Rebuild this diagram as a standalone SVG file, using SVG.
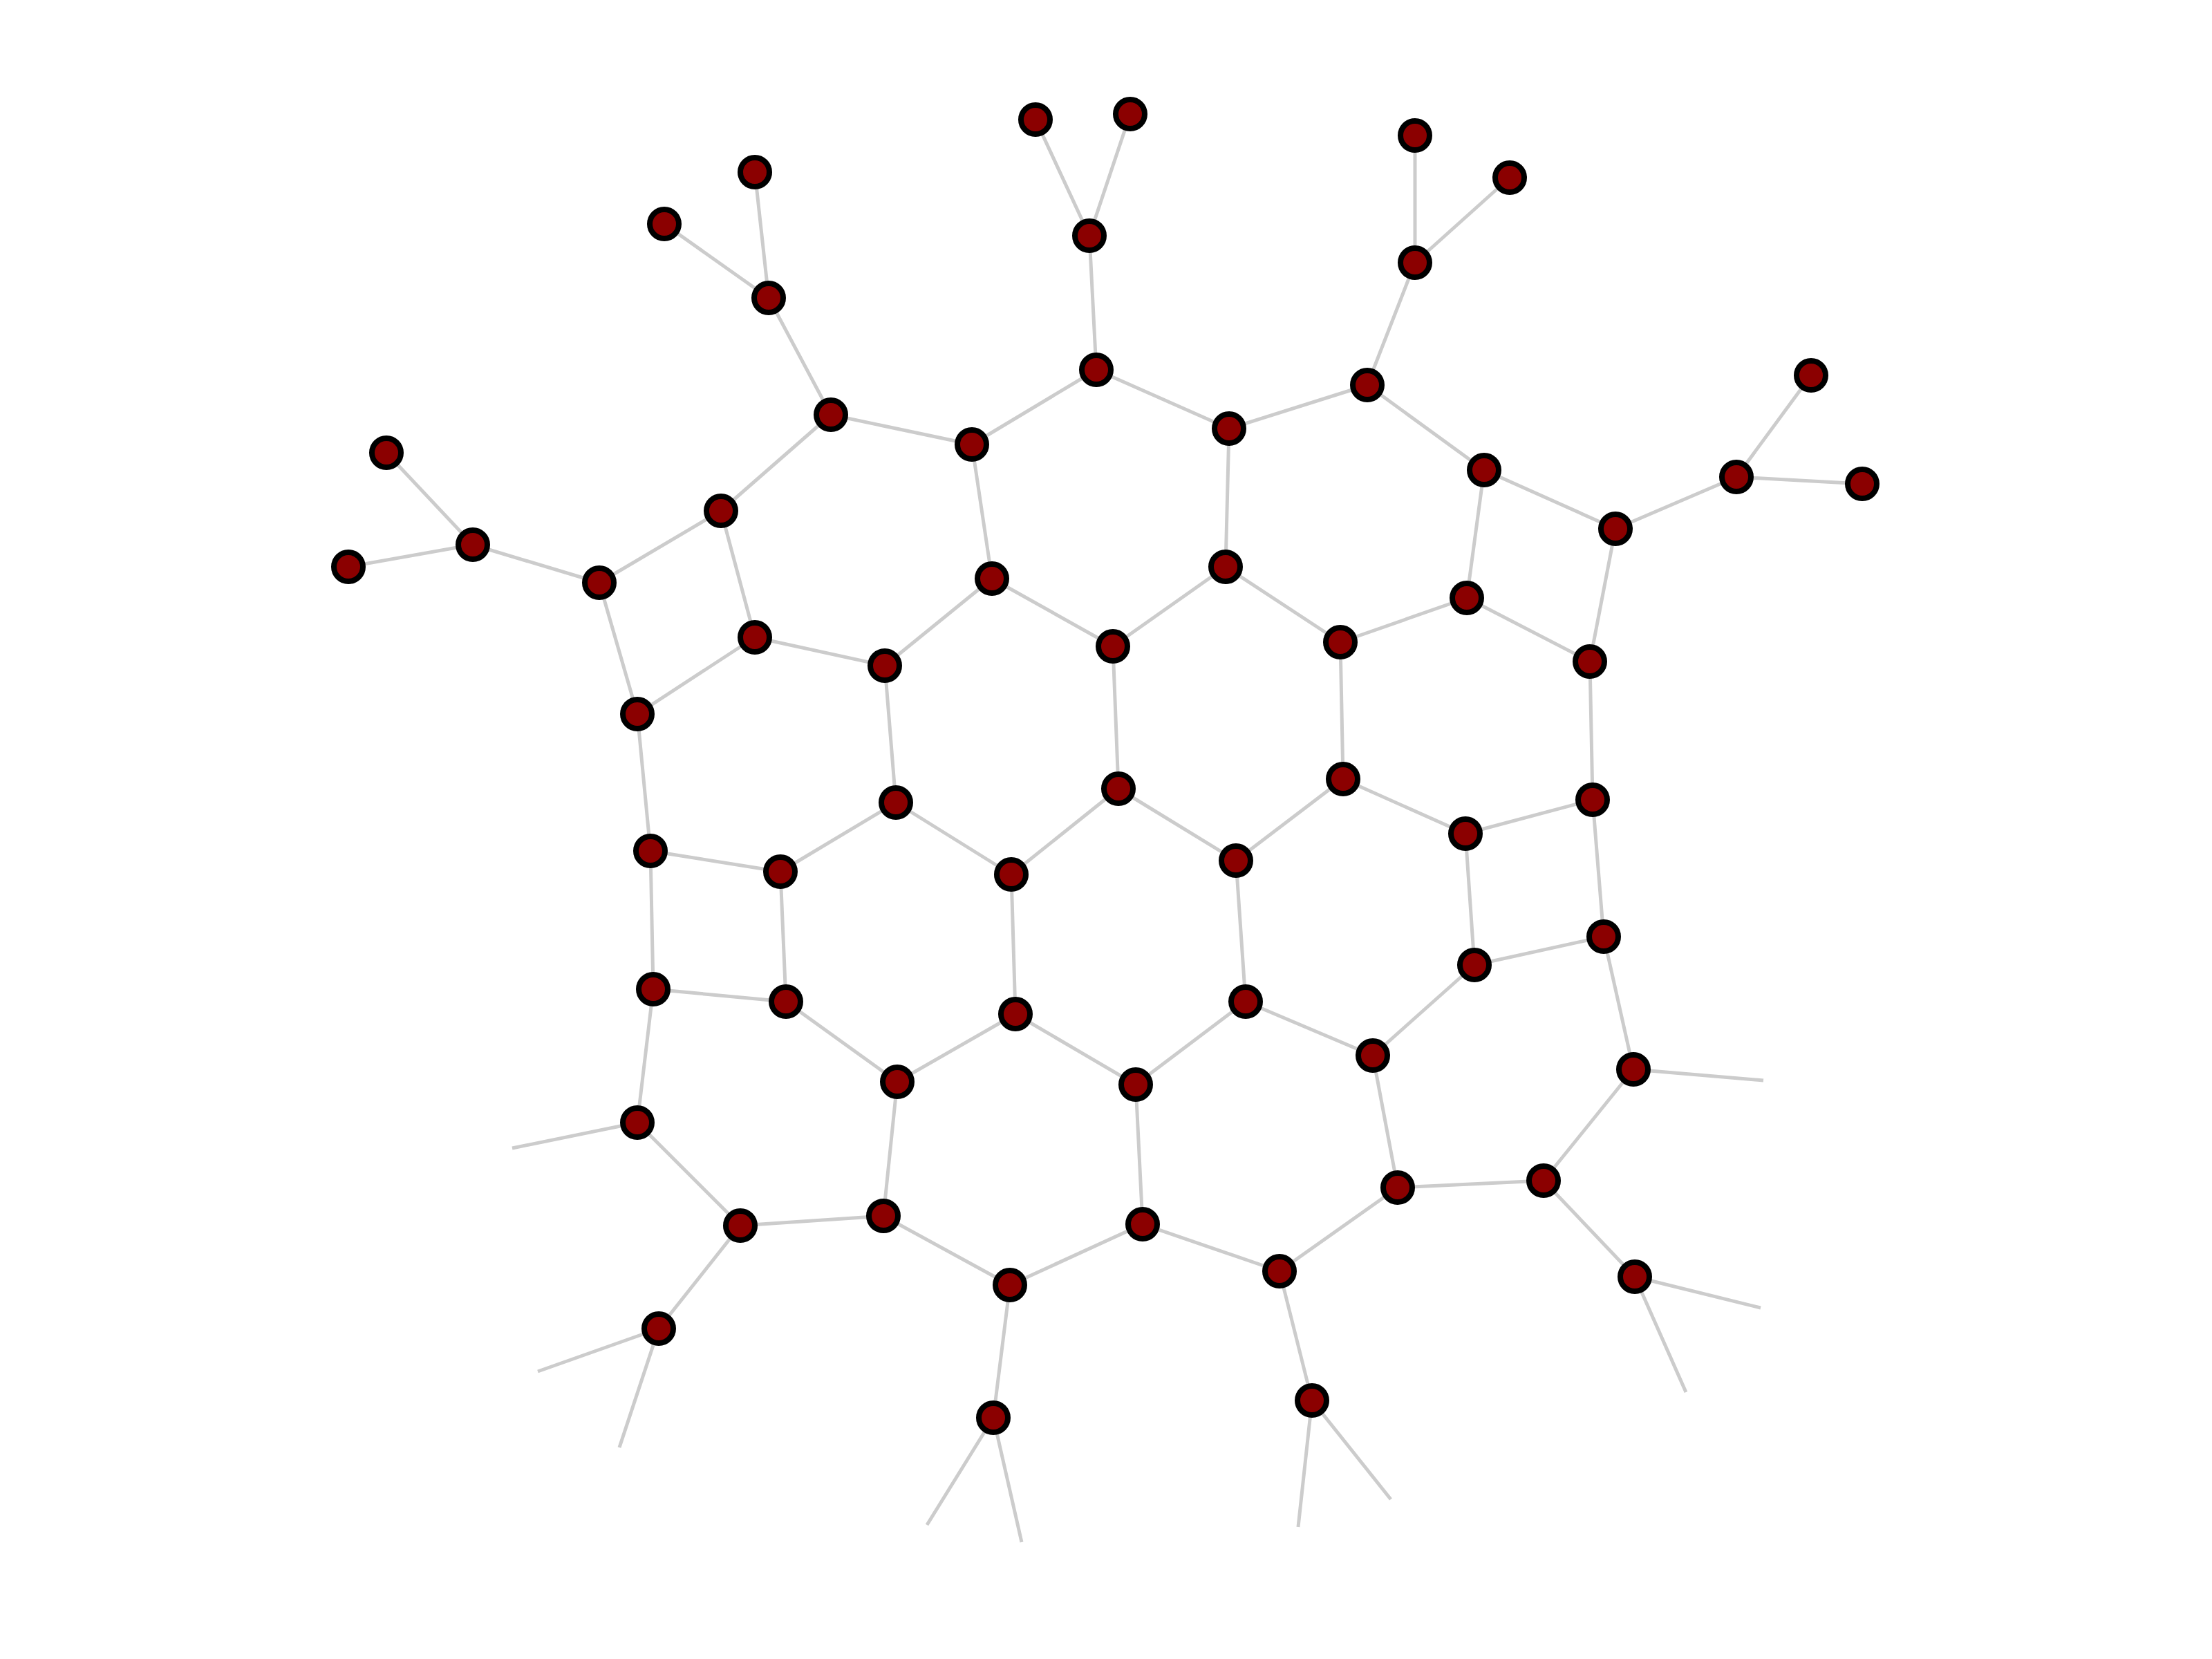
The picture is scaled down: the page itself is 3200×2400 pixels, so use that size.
<svg xmlns="http://www.w3.org/2000/svg" width="3200" height="2400" viewBox="0 0 3200 2400">
<style>
.e{stroke:#cccccc;stroke-width:5;stroke-linecap:butt;fill:none}
.n{fill:#8b0000;stroke:#000000;stroke-width:8}
</style>
<rect width="3200" height="2400" fill="#ffffff"/>
<g id="edges">
<path class="e" d="M1498,173L1576,341M1635,165L1576,341M1576,341L1586,535M1586,535L1406,643M1586,535L1778,620M1092,249L1112,431M961,324L1112,431M1112,431L1202,600M1202,600L1406,643M1202,600L1043,739M1406,643L1435,837M1778,620L1978,557M1778,620L1773,820M1978,557L2047,380M1978,557L2147,680M2047,196L2047,380M2184,257L2047,380M2147,680L2337,765M2147,680L2122,865M2337,765L2512,690M2512,690L2620,543M2512,690L2694,700M2337,765L2300,957M559,655L684,788M504,820L684,788M684,788L867,843M867,843L1043,739M867,843L922,1033M1043,739L1092,922M1092,922L922,1033M1092,922L1280,963M1435,837L1280,963M1435,837L1610,935M1610,935L1773,820M1773,820L1939,929M1939,929L2122,865M2122,865L2300,957M1939,929L1943,1127M1610,935L1618,1141M1280,963L1296,1161M922,1033L941,1231M2300,957L2304,1157M2304,1157L2120,1206M2120,1206L1943,1127M1943,1127L1788,1245M1788,1245L1618,1141M1618,1141L1463,1265M1463,1265L1296,1161M1296,1161L1129,1261M1129,1261L941,1231M941,1231L945,1431M1129,1261L1137,1449M945,1431L1137,1449M945,1431L922,1624M1137,1449L1298,1565M1298,1565L1469,1467M1469,1467L1463,1265M1469,1467L1643,1569M1643,1569L1802,1449M1802,1449L1788,1245M1802,1449L1986,1527M1986,1527L2133,1396M2133,1396L2120,1206M2133,1396L2320,1355M2320,1355L2304,1157M2320,1355L2363,1547M2363,1547L2233,1708M2233,1708L2022,1718M2022,1718L1986,1527M2233,1708L2365,1847M2022,1718L1851,1839M1851,1839L1653,1771M1653,1771L1643,1569M1653,1771L1461,1859M1461,1859L1278,1759M1278,1759L1298,1565M1278,1759L1071,1773M1071,1773L922,1624M1071,1773L953,1922M1461,1859L1437,2051M1851,1839L1898,2026"/>
<path class="e" d="M922,1624L741,1661M953,1922L778,1984M953,1922L896,2094M1437,2051L1341,2206M1437,2051L1478,2231M1898,2026L1878,2209M1898,2026L2012,2169M2365,1847L2547,1892M2365,1847L2439,2014M2363,1547L2551,1563"/>
</g>
<g id="nodes">
<circle id="n1" class="n" cx="1498" cy="173" r="21"/>
<circle id="n2" class="n" cx="1635" cy="165" r="21"/>
<circle id="n3" class="n" cx="1576" cy="341" r="21"/>
<circle id="n4" class="n" cx="1586" cy="535" r="21"/>
<circle id="n5" class="n" cx="1092" cy="249" r="21"/>
<circle id="n6" class="n" cx="961" cy="324" r="21"/>
<circle id="n7" class="n" cx="1112" cy="431" r="21"/>
<circle id="n8" class="n" cx="1202" cy="600" r="21"/>
<circle id="n9" class="n" cx="1406" cy="643" r="21"/>
<circle id="n10" class="n" cx="1778" cy="620" r="21"/>
<circle id="n11" class="n" cx="1978" cy="557" r="21"/>
<circle id="n12" class="n" cx="2047" cy="196" r="21"/>
<circle id="n13" class="n" cx="2184" cy="257" r="21"/>
<circle id="n14" class="n" cx="2047" cy="380" r="21"/>
<circle id="n15" class="n" cx="2147" cy="680" r="21"/>
<circle id="n16" class="n" cx="2337" cy="765" r="21"/>
<circle id="n17" class="n" cx="2512" cy="690" r="21"/>
<circle id="n18" class="n" cx="2620" cy="543" r="21"/>
<circle id="n19" class="n" cx="2694" cy="700" r="21"/>
<circle id="n20" class="n" cx="559" cy="655" r="21"/>
<circle id="n21" class="n" cx="504" cy="820" r="21"/>
<circle id="n22" class="n" cx="684" cy="788" r="21"/>
<circle id="n23" class="n" cx="867" cy="843" r="21"/>
<circle id="n24" class="n" cx="1043" cy="739" r="21"/>
<circle id="n25" class="n" cx="1092" cy="922" r="21"/>
<circle id="n26" class="n" cx="922" cy="1033" r="21"/>
<circle id="n27" class="n" cx="1435" cy="837" r="21"/>
<circle id="n28" class="n" cx="1280" cy="963" r="21"/>
<circle id="n29" class="n" cx="1610" cy="935" r="21"/>
<circle id="n30" class="n" cx="1773" cy="820" r="21"/>
<circle id="n31" class="n" cx="1939" cy="929" r="21"/>
<circle id="n32" class="n" cx="2122" cy="865" r="21"/>
<circle id="n33" class="n" cx="2300" cy="957" r="21"/>
<circle id="n34" class="n" cx="2304" cy="1157" r="21"/>
<circle id="n35" class="n" cx="2120" cy="1206" r="21"/>
<circle id="n36" class="n" cx="1943" cy="1127" r="21"/>
<circle id="n37" class="n" cx="1788" cy="1245" r="21"/>
<circle id="n38" class="n" cx="1618" cy="1141" r="21"/>
<circle id="n39" class="n" cx="1463" cy="1265" r="21"/>
<circle id="n40" class="n" cx="1296" cy="1161" r="21"/>
<circle id="n41" class="n" cx="1129" cy="1261" r="21"/>
<circle id="n42" class="n" cx="941" cy="1231" r="21"/>
<circle id="n43" class="n" cx="945" cy="1431" r="21"/>
<circle id="n44" class="n" cx="1137" cy="1449" r="21"/>
<circle id="n45" class="n" cx="1298" cy="1565" r="21"/>
<circle id="n46" class="n" cx="1469" cy="1467" r="21"/>
<circle id="n47" class="n" cx="1643" cy="1569" r="21"/>
<circle id="n48" class="n" cx="1802" cy="1449" r="21"/>
<circle id="n49" class="n" cx="1986" cy="1527" r="21"/>
<circle id="n50" class="n" cx="2133" cy="1396" r="21"/>
<circle id="n51" class="n" cx="2320" cy="1355" r="21"/>
<circle id="n52" class="n" cx="2363" cy="1547" r="21"/>
<circle id="n53" class="n" cx="2233" cy="1708" r="21"/>
<circle id="n54" class="n" cx="2022" cy="1718" r="21"/>
<circle id="n55" class="n" cx="1851" cy="1839" r="21"/>
<circle id="n56" class="n" cx="1653" cy="1771" r="21"/>
<circle id="n57" class="n" cx="1461" cy="1859" r="21"/>
<circle id="n58" class="n" cx="1278" cy="1759" r="21"/>
<circle id="n59" class="n" cx="1071" cy="1773" r="21"/>
<circle id="n60" class="n" cx="922" cy="1624" r="21"/>
<circle id="n61" class="n" cx="953" cy="1922" r="21"/>
<circle id="n62" class="n" cx="1437" cy="2051" r="21"/>
<circle id="n63" class="n" cx="1898" cy="2026" r="21"/>
<circle id="n64" class="n" cx="2365" cy="1847" r="21"/>
</g>
</svg>
